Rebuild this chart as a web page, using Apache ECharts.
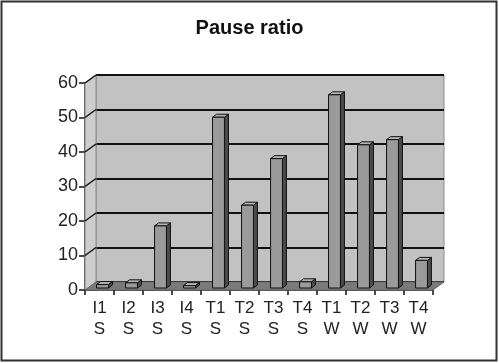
<!DOCTYPE html>
<html>
<head>
<meta charset="utf-8">
<script src="https://cdn.jsdelivr.net/npm/echarts@6/dist/echarts.min.js"></script>
<style>html,body{margin:0;padding:0;background:#fff}#c{width:499px;height:363px}</style>
</head>
<body>
<div id="c"></div>
<script>
var titleText = 'Pause ratio';
var categories = ['I1\nS','I2\nS','I3\nS','I4\nS','T1\nS','T2\nS','T3\nS','T4\nS','T1\nW','T2\nW','T3\nW','T4\nW'];
var values = [1, 1.5, 18, 0.7, 49.5, 24, 37.5, 1.8, 56, 41.5, 43, 8];
var yTicks = [0, 10, 20, 30, 40, 50, 60];

var DX = 11, DY = -8;       // depth offset of back wall
var SX = 3, SY = -2;        // bar front face offset
var BDX = 4, BDY = -3;      // bar depth
var font = 'Liberation Sans, Arial, sans-serif';

var chart = echarts.init(document.getElementById('c'));
chart.setOption({
  backgroundColor: '#ffffff',
  animation: false,
  title: {
    text: titleText, left: 'center', top: 13,
    textStyle: {fontFamily: font, fontSize: 20, fontWeight: 'bold', color: '#111'}
  },
  graphic: [{
    type: 'rect', z: 100, silent: true,
    shape: {x: 1.5, y: 1.5, width: 495, height: 359},
    style: {fill: 'none', stroke: '#333', lineWidth: 2}
  }],
  grid: [
    {left: 85, right: 66, top: 83, bottom: 73},
    {left: 96, right: 55, top: 75, bottom: 81, show: true, backgroundColor: '#c2c2c2', borderColor: '#8a8a8a', borderWidth: 1}
  ],
  xAxis: [
    {
      type: 'category', gridIndex: 0, data: categories,
      axisLine: {lineStyle: {color: '#111', width: 1.5}},
      axisTick: {show: true, length: 5, lineStyle: {color: '#111', width: 1.5}},
      axisLabel: {fontFamily: font, fontSize: 17, color: '#222', lineHeight: 21, margin: 8, interval: 0}
    },
    {
      type: 'category', gridIndex: 1, data: categories,
      axisLine: {show: false}, axisTick: {show: false}, axisLabel: {show: false}, splitLine: {show: false}
    }
  ],
  yAxis: [
    {
      type: 'value', gridIndex: 0, min: 0, max: 60, interval: 10,
      axisLine: {show: true, lineStyle: {color: '#111', width: 1.5}},
      axisTick: {show: true, length: 6, lineStyle: {color: '#111', width: 1.5}},
      axisLabel: {fontFamily: font, fontSize: 18, color: '#222', margin: 7},
      splitLine: {show: false}
    },
    {
      type: 'value', gridIndex: 1, min: 0, max: 60, interval: 10,
      axisLine: {show: false}, axisTick: {show: false}, axisLabel: {show: false},
      splitLine: {show: true, lineStyle: {color: '#111', width: 1.8}}
    }
  ],
  series: [
    {
      type: 'custom', xAxisIndex: 0, yAxisIndex: 0, z: 1, silent: true,
      data: [[0, 0]],
      renderItem: function (params, api) {
        var cs = params.coordSys;
        var x = cs.x, y = cs.y, w = cs.width, h = cs.height;
        var ch = [];
        ch.push({type: 'polygon', shape: {points: [[x, y], [x + DX, y + DY], [x + DX, y + h + DY], [x, y + h]]},
          style: {fill: '#cdcdcd', stroke: '#8a8a8a', lineWidth: 1}});
        ch.push({type: 'polygon', shape: {points: [[x, y + h], [x + w, y + h], [x + w + DX, y + h + DY], [x + DX, y + h + DY]]},
          style: {fill: '#7a7a7a', stroke: '#6a6a6a', lineWidth: 1}});
        for (var k = 0; k < yTicks.length; k++) {
          var py = api.coord([0, yTicks[k]])[1];
          if (yTicks[k] === 0) continue;
          ch.push({type: 'line', shape: {x1: x, y1: py, x2: x + DX, y2: py + DY}, style: {stroke: '#111', lineWidth: 1.5}});
        }
        return {type: 'group', children: ch};
      }
    },
    {
      type: 'custom', xAxisIndex: 0, yAxisIndex: 0, z: 5,
      data: values.map(function (v, i) { return [i, v]; }),
      renderItem: function (params, api) {
        var i = api.value(0), v = api.value(1);
        var top = api.coord([i, v]), base = api.coord([i, 0]);
        var bw = api.size([1, 0])[0] * 0.41;
        var x0 = base[0] - bw / 2 + SX, x1 = x0 + bw;
        var yb = base[1] + SY, yt = top[1] + SY;
        return {type: 'group', children: [
          {type: 'polygon', shape: {points: [[x1, yb], [x1 + BDX, yb + BDY], [x1 + BDX, yt + BDY], [x1, yt]]},
            style: {fill: '#4a4a4a', stroke: '#111', lineWidth: 1}},
          {type: 'polygon', shape: {points: [[x0, yt], [x1, yt], [x1 + BDX, yt + BDY], [x0 + BDX, yt + BDY]]},
            style: {fill: '#b4b4b4', stroke: '#111', lineWidth: 1}},
          {type: 'rect', shape: {x: x0, y: yt, width: bw, height: yb - yt},
            style: {fill: '#9a9a9a', stroke: '#111', lineWidth: 1}}
        ]};
      }
    }
  ]
});
</script>
</body>
</html>
